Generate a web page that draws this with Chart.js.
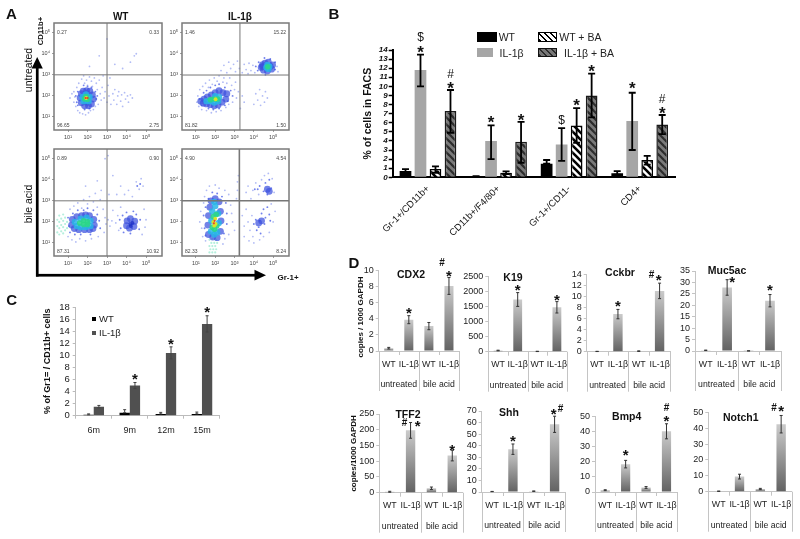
<!DOCTYPE html>
<html><head><meta charset="utf-8">
<script src="https://cdn.jsdelivr.net/npm/chart.js@4"></script>
<style>
html,body{margin:0;padding:0;background:#fff;overflow:hidden;width:800px;height:539px}
#stage{position:relative;width:800px;height:539px;font-family:"Liberation Sans",Arial,sans-serif;color:#111}
canvas{position:absolute;left:0;top:0}
canvas.flow{filter:blur(.55px)}
.t{position:absolute;white-space:nowrap;line-height:1;transform:translate(-50%,-50%)}
.l{position:absolute;white-space:nowrap;line-height:1;transform:translateY(-50%)}
.r{transform:translate(-50%,-50%) rotate(-90deg)}
.s{position:absolute}
svg{position:absolute;left:0;top:0}
</style></head><body><div id="stage">
<svg width="800" height="539"><g fill="#000">
<rect x="35.9" y="66" width="2.7" height="210.6"/><path d="M37.2 57 L31.6 68.5 L42.8 68.5 Z"/>
<rect x="36" y="273.9" width="220" height="2.7"/><path d="M266 275.2 L254.5 269.8 L254.5 280.6 Z"/></g></svg>
<script>
/* ---------- Panel B data ---------- */
const bCategories=['Gr-1+/CD11b+','CD11b+/F4/80+','Gr-1+/CD11-','CD4+'];
const bSeries=['WT','IL-1β','WT + BA','IL-1β + BA'];
const bWT=[0.7,0.1,1.5,0.45];
const bIL=[11.8,4.0,3.6,6.2];
const bWTBA=[0.9,0.5,5.7,1.9];
const bILBA=[7.3,3.9,9.0,5.8];
const bWTLo=[0.55,0.08,1.5,0.3], bWTHi=[0.9,0.14,1.9,0.68];
const bILLo=[10.0,2.0,1.8,3.0], bILHi=[13.5,5.7,5.4,9.3];
const bWTBALo=[0.5,0.35,3.8,1.4], bWTBAHi=[1.2,0.65,7.6,2.35];
const bILBALo=[4.9,1.6,6.6,4.75], bILBAHi=[9.6,6.1,11.4,6.85];
const bTicks=14;
/* ---------- Panel C data ---------- */
const cCategories=['6m','9m','12m','15m'];
const cWT=[0.15,0.5,0.3,0.3];
const cIL=[1.5,5.0,10.4,15.2];
const cWTErr=[0.15,0.5,0.25,0.3];
const cILErr=[0.2,0.5,1.0,1.35];
/* ---------- Panel D data ---------- */
const dCategories=['WT','IL-1β','WT','IL-1β'];
const dGroups=['untreated','bile acid'];
const cdx2=[0.35,3.9,3.1,8.1], cdx2Err=[0.1,0.5,0.45,1.05];
const k19=[40,1740,10,1480], k19Err=[10,230,5,190];
const cckbr=[0.05,6.8,0.1,11], cckbrErr=[0.02,0.85,0.05,1.4];
const muc5ac=[0.3,27.8,0.05,22], muc5acErr=[0.1,3.4,0.02,2.7];
const tff2=[3,198,14,118], tff2Err=[1.5,25,4,17];
const shh=[0.4,37,0.7,58.5], shhErr=[0.1,4.5,0.2,7];
const bmp4=[1.2,18.5,3,40.3], bmp4Err=[0.3,2.5,0.6,5];
const notch1=[0.3,9.5,1.7,42.5], notch1Err=[0.1,1.5,0.4,5.5];
/* ---------- Panel A data: events in decades of fluorescence (Gr-1, CD11b) ---------- */
const aTickValues=[1,2,3,4,5];
const tlPercent=['0.27','0.33','96.65','2.75'], trPercent=['1.46','15.22','81.82','1.50'], blPercent=['0.89','0.90','87.31','10.92'], brPercent=['4.90','4.54','82.33','8.24'];
const tlGate=[3,3], trGate=[3.28,2.99], blGate=[3,3], brGate=[3.25,3];
const tlLight=[[1.1,1.9],[1.2,2.1],[1.3,1.7],[1.3,2.2],[1.4,1.5],[1.35,1.95],[1.45,2.4],[1.5,1.3],[1.55,2.6],[1.6,1.2],[1.7,2.8],[1.75,1.15],[1.8,2.95],[1.85,2.6],[1.9,1.1],[1.95,2.75],[2.0,2.5],[2.05,1.2],[2.1,2.9],[2.15,1.3],[2.2,2.7],[2.25,2.45],[2.3,1.35],[2.35,2.85],[2.4,1.5],[2.45,2.6],[2.5,2.3],[2.55,1.6],[2.6,2.75],[2.65,2.1],[2.7,1.8],[2.75,2.4],[2.8,2.95],[2.85,1.9],[2.9,2.2],[3.0,1.7],[3.05,2.5],[3.1,2.0],[3.15,2.85],[3.2,1.6],[3.3,2.1],[3.35,1.8],[3.4,2.3],[3.5,1.6],[3.55,2.0],[3.6,2.2],[3.7,1.75],[3.75,2.05],[3.8,1.5],[3.9,2.15],[3.95,1.85],[4.05,2.0],[4.1,1.7],[4.2,2.05],[4.3,1.9],[3.4,3.5],[3.8,3.3],[4.2,3.6],[4.4,3.9],[4.5,4.0],[2.6,3.9],[3.0,4.7],[2.1,3.4]];
const tlMid=[[1.4,2.0],[1.45,1.7],[1.5,2.2],[2.4,2.2],[2.45,1.85],[2.5,2.0],[1.8,2.5],[2.0,2.45],[2.2,2.4],[1.85,1.35],[2.1,1.4],[1.5,1.55]];
const tlBlue=[[1.62,1.9],[1.68,2.1],[1.78,2.22],[1.95,2.25],[2.12,2.22],[2.25,2.05],[2.3,1.85],[2.2,1.62],[2.05,1.53],[1.85,1.53],[1.68,1.67],[1.95,1.7],[1.95,2.1]];
const tlCyan=[[1.92,2.07],[2.1,1.95],[2.05,1.75],[1.8,1.75],[1.75,1.95]];
const tlGreen=[[1.92,1.97],[2.0,1.84],[1.85,1.86]];
const tlYellow=[[1.93,1.9]];
const tlRed=[[1.9,1.9],[2.0,1.9]];
const trLight=[[1.05,1.7],[1.1,2.0],[1.15,1.5],[1.2,2.3],[1.3,1.35],[1.35,2.45],[1.45,2.0],[1.5,2.6],[1.55,1.3],[1.65,2.4],[1.7,2.75],[1.8,1.2],[1.85,2.55],[1.95,2.85],[2.05,1.25],[2.1,2.7],[2.2,2.95],[2.3,1.3],[2.4,2.65],[2.45,2.85],[2.55,1.45],[2.6,2.6],[2.7,1.6],[2.75,2.85],[2.85,2.5],[2.9,1.7],[3.0,2.3],[3.05,2.65],[3.1,1.9],[3.2,2.2],[3.3,1.4],[3.4,2.0],[3.5,1.7],[2.3,3.2],[2.45,3.45],[2.6,3.1],[2.7,3.6],[2.8,3.3],[2.95,3.5],[3.05,3.15],[3.15,3.65],[3.25,3.3],[3.4,3.1],[3.5,3.5],[3.6,3.25],[3.7,3.05],[3.75,3.55],[3.85,3.2],[3.95,3.45],[4.05,3.1],[4.0,1.6],[4.1,2.1],[4.2,1.8],[4.3,2.3],[4.35,1.55],[4.45,2.0],[4.55,1.7],[4.6,2.2],[4.7,1.9],[5.2,3.4],[5.25,3.15]];
const trMid=[[1.2,1.85],[1.3,1.55],[1.4,2.15],[1.55,2.25],[1.75,2.4],[2.0,2.5],[2.2,2.55],[2.5,2.4],[2.8,2.25],[2.9,2.0],[2.65,1.75],[2.5,1.55],[1.65,1.4],[1.9,1.35],[2.2,1.4],[4.1,3.4],[4.2,3.2],[4.25,3.6],[4.6,3.0],[5.1,3.25],[5.1,3.6],[4.85,3.75],[4.55,3.8]];
const trBlue=[[1.25,1.75],[1.38,1.65],[1.42,1.85],[1.55,1.62],[1.6,1.95],[1.75,1.58],[1.8,2.05],[1.95,1.53],[2.0,2.15],[2.15,1.57],[2.2,2.25],[2.35,1.7],[2.4,2.15],[2.55,1.85],[2.6,2.1],[4.38,3.35],[4.45,3.48],[4.5,3.22],[4.58,3.55],[4.7,3.18],[4.75,3.6],[4.92,3.27],[4.97,3.47],[4.85,3.4],[4.45,3.4]];
const trCyan=[[1.55,1.75],[1.75,1.75],[1.95,1.68],[2.15,1.75],[2.2,1.95],[2.0,1.98],[4.65,3.35],[4.8,3.4],[4.7,3.47],[4.75,3.28]];
const trGreen=[[1.75,1.82],[1.95,1.85],[2.12,1.85],[4.72,3.38]];
const trYellow=[[2.02,1.84]];
const trRed=[];
const blPale=[[0.45,1.5],[0.45,1.8],[0.45,2.1],[0.55,1.4],[0.55,1.7],[0.55,2.0],[0.55,2.3],[0.65,1.55],[0.65,1.85],[0.65,2.15],[0.75,1.45],[0.75,1.75],[0.75,2.05],[0.75,2.35],[0.85,1.6],[0.85,1.9],[0.85,2.2],[0.95,1.7],[0.95,2.0]];
const blLight=[[1.0,1.3],[1.1,2.6],[1.2,1.15],[1.3,2.75],[1.4,1.05],[1.5,2.9],[1.6,1.2],[1.7,2.65],[1.8,3.05],[1.9,1.1],[2.0,2.85],[2.1,3.2],[2.2,1.2],[2.3,2.95],[2.4,3.35],[2.5,2.7],[2.55,1.3],[2.65,3.05],[2.7,3.5],[2.8,2.6],[2.85,1.5],[2.9,2.2],[2.95,1.9],[3.05,2.1],[3.1,3.3],[3.15,1.8],[3.25,2.05],[3.3,2.55],[3.45,1.95],[3.55,2.3],[3.6,1.6],[3.7,2.7],[4.9,2.6],[4.95,1.75],[5.0,2.1],[4.8,1.4],[3.5,3.3],[3.7,3.7],[3.9,3.3],[4.1,3.5],[4.3,3.2],[4.5,3.9],[4.65,3.55],[4.75,4.05],[4.85,3.7],[2.9,5.0],[3.05,5.15],[3.3,4.2],[2.5,3.95],[1.9,3.7]];
const blMid=[[1.05,1.8],[1.0,2.2],[1.1,1.5],[1.25,2.4],[1.35,1.4],[1.5,2.55],[1.65,1.4],[1.8,2.55],[2.0,2.65],[2.15,1.4],[2.3,2.55],[2.5,2.35],[2.6,2.05],[2.65,1.7],[3.65,2.1],[3.7,1.7],[3.8,2.3],[3.85,1.5],[4.0,2.45],[4.2,1.45],[4.35,2.5],[4.5,2.35],[4.65,1.65],[4.7,2.1],[4.55,3.7],[4.7,3.8]];
const blBlue=[[1.18,1.85],[1.22,2.12],[1.32,1.68],[1.45,2.25],[1.55,1.63],[1.7,2.3],[1.9,2.33],[1.85,1.63],[2.1,2.3],[2.1,1.63],[2.32,2.12],[2.35,1.85],[2.28,1.68],[4.0,1.82],[4.03,2.05],[4.15,1.7],[4.2,2.15],[4.38,1.78],[4.42,2.03]];
const blCyan=[[1.35,2.0],[1.45,1.8],[1.65,2.15],[1.65,1.75],[1.95,2.2],[2.15,2.05],[2.15,1.8],[1.9,1.75]];
const blGreen=[[1.6,1.95],[1.8,2.05],[1.8,1.88],[2.0,2.0],[2.0,1.88]];
const blDeep=[[4.2,1.9],[4.3,1.95],[4.22,1.8]];
const brPale=[[1.7,0.55],[1.85,0.55],[2.0,0.55],[1.75,0.7],[1.9,0.7],[2.05,0.7],[1.7,0.85],[1.85,0.85],[2.0,0.85],[1.8,1.0],[1.95,1.0],[2.1,1.0],[1.7,1.15],[1.85,1.2],[2.05,1.15]];
const brLight=[[1.2,2.0],[1.25,2.5],[1.3,1.7],[1.4,2.9],[1.35,1.3],[1.45,3.2],[1.5,1.1],[1.55,3.5],[1.7,3.7],[2.0,3.75],[2.2,3.6],[2.5,3.5],[2.7,3.3],[2.8,2.8],[2.85,2.4],[2.9,2.0],[3.0,1.6],[2.7,1.4],[2.5,1.2],[2.4,0.95],[3.1,3.1],[3.15,3.5],[3.15,3.9],[3.2,4.2],[3.4,2.3],[3.5,1.8],[3.5,1.3],[3.6,2.6],[3.7,2.0],[3.75,1.1],[3.8,1.6],[3.9,2.3],[3.95,1.3],[3.6,3.4],[3.7,3.7],[3.85,3.1],[3.95,3.5],[4.1,3.85],[4.25,3.3],[4.4,4.0],[4.55,4.2],[4.75,4.3],[4.95,4.05],[5.05,3.4],[4.0,1.0],[4.3,1.15],[4.5,1.3],[4.8,1.5],[5.0,2.0],[5.1,2.5],[4.9,2.85]];
const brMid=[[1.4,2.3],[1.45,1.7],[1.5,2.7],[1.5,1.35],[1.65,3.1],[1.85,3.4],[2.1,3.35],[2.35,3.2],[2.55,2.9],[2.6,2.4],[2.6,1.9],[2.45,1.45],[4.05,3.55],[4.2,3.55],[4.3,3.7],[4.5,3.45],[4.6,3.85],[4.7,3.3],[4.8,4.0],[4.9,3.6],[4.0,1.9],[4.1,2.1],[4.15,1.6],[4.25,1.75],[4.35,1.45],[4.4,2.4],[4.5,2.6],[4.55,1.9],[4.6,2.2],[4.7,2.7],[4.8,2.35],[4.3,2.05],[4.85,2.05]];
const brBlue=[[1.65,1.4],[1.62,1.85],[1.65,2.3],[1.72,2.7],[1.78,3.0],[2.0,3.1],[2.2,2.95],[2.27,2.5],[2.3,2.05],[2.27,1.55],[2.1,1.25],[1.87,1.28],[4.7,3.55],[4.8,3.45],[4.4,2.05],[4.25,1.95]];
const brCyan=[[1.78,1.55],[1.8,2.05],[1.85,2.5],[2.0,2.75],[2.15,2.4],[2.18,1.95],[2.1,1.5],[1.95,1.4],[1.95,2.95]];
const brGreen=[[1.85,1.75],[1.9,2.25],[2.05,2.35],[2.08,1.8],[1.97,1.65]];
const brYellow=[[1.9,2.0],[2.0,2.15],[2.02,1.9],[1.95,1.82]];
const brRed=[[1.97,2.05],[1.93,1.93]];
</script>
<script>
const FONT='"Liberation Sans",Arial,sans-serif';
const stage=document.getElementById('stage');
Chart.defaults.font.family=FONT;
Chart.defaults.color='#222';

function txt(s,x,y,css,cls){const d=document.createElement('div');d.className=cls||'t';d.textContent=s;d.style.left=x+'px';d.style.top=y+'px';d.style.cssText+=';'+css;stage.appendChild(d);}
function box(x,y,w,h,css){const d=document.createElement('div');d.className='s';d.style.cssText=`left:${x}px;top:${y}px;width:${w}px;height:${h}px;box-sizing:border-box;`+css;stage.appendChild(d);}
function mount(cfg,cls){const c=document.createElement('canvas');c.width=800;c.height=539;if(cls)c.className=cls;stage.appendChild(c);return new Chart(c,cfg);}
function baseOptions(r,W,H,scales){
  scales.x.afterFit=s=>{s.height=H};
  scales.y.afterFit=s=>{s.width=W};
  return {responsive:false,animation:false,devicePixelRatio:1,
    layout:{padding:{left:r.l-W,right:800-r.r,top:r.t,bottom:539-r.b-H}},
    plugins:{legend:{display:false},tooltip:{enabled:false}},scales};
}
function axisTitle(text,font,titleX,plotLeft){return {W:plotLeft-titleX+font.size*0.6,title:{display:true,text,font,color:'#111',padding:0}};}

function errorPlugin(spec){return {id:'err',afterDatasetsDraw(ch){
  const c=ch.ctx,y=ch.scales.y;c.save();c.strokeStyle=spec.color;c.lineWidth=spec.width;
  spec.series.forEach(sr=>{ch.getDatasetMeta(sr.ds).data.forEach((el,i)=>{
    const hi=y.getPixelForValue(sr.hi[i]),lo=y.getPixelForValue(sr.lo[i]),x=el.x;
    c.beginPath();c.moveTo(x,lo);c.lineTo(x,hi);
    c.moveTo(x-spec.cap,hi);c.lineTo(x+spec.cap,hi);
    c.moveTo(x-spec.cap,lo);c.lineTo(x+spec.cap,lo);c.stroke();});});
  c.restore();}};}
function markPlugin(marks,hiOf,starFont,symFont){return {id:'marks',afterDraw(ch){
  const c=ch.ctx,y=ch.scales.y;c.save();c.textAlign='center';c.textBaseline='alphabetic';c.fillStyle='#111';
  marks.forEach(([ds,i,sym,dx,dy])=>{
    const el=ch.getDatasetMeta(ds).data[i],top=y.getPixelForValue(hiOf(ds,i));
    const f=sym==='*'?starFont:symFont;c.font=f.css;
    c.fillText(sym,el.x+dx,top+dy+f.size*(sym==='*'?0.58:0.35));});
  c.restore();}};}
function levelPlugin(){return {id:'levels',afterDraw(ch){
  const c=ch.ctx,a=ch.chartArea,n=dCategories.length,st=(a.right-a.left)/n;
  c.save();c.strokeStyle='#c4c4c4';c.lineWidth=1;
  for(let i=0;i<=n;i++){const px=Math.round(a.left+st*i)+.5,long=i%2===0;
    c.beginPath();c.moveTo(px,a.bottom);c.lineTo(px,a.bottom+(long?40:4));c.stroke();}
  c.fillStyle='#222';c.font='8.7px '+FONT;c.textAlign='center';c.textBaseline='middle';
  dGroups.forEach((g,i)=>c.fillText(g,a.left+st*(i*2+1),a.bottom+34));
  c.restore();}};}

/* ---------- Panel A ---------- */
const layerStyle={light:['#b2bcf5',.9],pale:['#b5efdd',1.1],mid:['#7282ec',.95],blue:['rgba(60,80,222,.72)',3.4],deep:['rgba(30,50,200,.8)',2],cyan:['rgba(40,180,232,.85)',3.2],green:['rgba(43,214,138,.9)',2.8],yellow:['#d9e32a',1.9],red:['#e8432a',1.1]};
function flow(r,layers,gate,pct,gateW){
  const ds=[];
  layers.forEach(([name,pts])=>{const s=layerStyle[name];ds.push({type:'scatter',data:pts,pointRadius:s[1],pointBackgroundColor:s[0],pointBorderWidth:0,showLine:false});});
  const X0=.28,X1=5.82,Y0=.38,Y1=5.46;
  ds.push({type:'scatter',data:[[gate[0],Y0],[gate[0],Y1]],showLine:true,pointRadius:0,borderColor:'#777',borderWidth:gateW});
  ds.push({type:'scatter',data:[[X0,gate[1]],[X1,gate[1]]],showLine:true,pointRadius:0,borderColor:'#777',borderWidth:gateW});
  ds.forEach((d,i)=>d.order=-i);
  const sup=v=>'10'+({1:'¹',2:'²',3:'³',4:'⁴',5:'⁵'}[v]||'');
  const axis=(min,max)=>({type:'linear',min,max,
    afterBuildTicks:s=>{s.ticks=aTickValues.map(v=>({value:v}))},
    grid:{drawOnChartArea:false,tickLength:2,tickColor:'#777',tickWidth:.7},border:{display:false},
    ticks:{autoSkip:false,maxRotation:0,padding:2,color:'#444',font:{size:5.5},callback:v=>sup(v)}});
  mount({type:'scatter',data:{datasets:ds},options:baseOptions(r,14,14,{x:axis(X0,X1),y:axis(Y0,Y1)}),
    plugins:[{id:'frame',afterDraw(ch){const c=ch.ctx,a=ch.chartArea;c.save();
      c.strokeStyle='#7a7a7a';c.lineWidth=1.5;c.strokeRect(a.left,a.top,a.right-a.left,a.bottom-a.top);
      c.fillStyle='#444';c.font='5px '+FONT;c.textBaseline='middle';
      c.textAlign='left';c.fillText(pct[0],a.left+3,a.top+10);c.fillText(pct[2],a.left+3,a.bottom-4);
      c.textAlign='right';c.fillText(pct[1],a.right-3,a.top+10);c.fillText(pct[3],a.right-3,a.bottom-4);
      c.restore();}}]},'flow');
}
flow({l:54,r:162,t:23,b:130},[['light',tlLight],['mid',tlMid],['blue',tlBlue],['cyan',tlCyan],['green',tlGreen],['yellow',tlYellow],['red',tlRed]],tlGate,tlPercent,1);
flow({l:182,r:289,t:23,b:130},[['light',trLight],['mid',trMid],['blue',trBlue],['cyan',trCyan],['green',trGreen],['yellow',trYellow],['red',trRed]],trGate,trPercent,1);
flow({l:54,r:162,t:149,b:256},[['pale',blPale],['light',blLight],['mid',blMid],['blue',blBlue],['cyan',blCyan],['green',blGreen],['deep',blDeep]],blGate,blPercent,1);
flow({l:182,r:289,t:149,b:256},[['pale',brPale],['light',brLight],['mid',brMid],['blue',brBlue],['cyan',brCyan],['green',brGreen],['yellow',brYellow],['red',brRed]],brGate,brPercent,1.6);

/* ---------- Panel B ---------- */
function hatch(bg,fg,w){const p=document.createElement('canvas');p.width=p.height=7;const c=p.getContext('2d');
  c.fillStyle=bg;c.fillRect(0,0,7,7);c.strokeStyle=fg;c.lineWidth=w;
  [-7,0,7].forEach(o=>{c.beginPath();c.moveTo(o-1,-1);c.lineTo(o+8,8);c.stroke();});
  return c.createPattern(p,'repeat');}
const wtHatch=hatch('#fff','#000',2.6), ilHatch=hatch('#7a7a7a','#2c2c2c',2.2);
(function(){
  const f={size:10.5,weight:'bold'},a=axisTitle('% of cells in FACS',f,367.7,392.7);
  const rect={l:392.7,r:675,t:50,b:177.3};
  const y={type:'linear',min:0,max:bTicks,title:a.title,
    grid:{drawOnChartArea:false,tickLength:4,tickColor:'#000',tickWidth:1.5},border:{color:'#000',width:2},
    ticks:{stepSize:1,autoSkip:false,padding:1,color:'#111',font:{size:8,style:'italic',weight:'bold'}}};
  const x={type:'category',grid:{display:false,drawTicks:false},border:{color:'#000',width:2},
    ticks:{autoSkip:false,minRotation:45,maxRotation:45,padding:6,color:'#111',font:{size:9.5}}};
  const common={barPercentage:.78,categoryPercentage:.85};
  const hi=[bWTHi,bILHi,bWTBAHi,bILBAHi];
  mount({type:'bar',data:{labels:bCategories,datasets:[
    {label:bSeries[0],data:bWT,backgroundColor:'#000',...common},
    {label:bSeries[1],data:bIL,backgroundColor:'#a6a6a6',...common},
    {label:bSeries[2],data:bWTBA,backgroundColor:wtHatch,borderColor:'#000',borderWidth:1.5,...common},
    {label:bSeries[3],data:bILBA,backgroundColor:ilHatch,borderColor:'#1a1a1a',borderWidth:1.5,...common}]},
    options:baseOptions(rect,a.W,62,{x,y}),
    plugins:[errorPlugin({color:'#000',width:1.8,cap:3.5,series:[
      {ds:0,lo:bWTLo,hi:bWTHi},{ds:1,lo:bILLo,hi:bILHi},{ds:2,lo:bWTBALo,hi:bWTBAHi},{ds:3,lo:bILBALo,hi:bILBAHi}]}),
      markPlugin([[1,0,'*',0,-6.4],[1,0,'$',0,-17.7],[3,0,'*',0,-6],[3,0,'#',0,-16],[1,1,'*',0,-7],[3,1,'*',0,-6],
        [1,2,'$',0,-8],[2,2,'*',0,-6.6],[3,2,'*',0,-6.4],[1,3,'*',0,-8.7],[3,3,'*',0,-6],[3,3,'#',0,-16.7]],
        (ds,i)=>hi[ds][i],{size:17,css:'bold 17px '+FONT},{size:12,css:'12px '+FONT})]});
})();
const lg='font-size:10.5px;color:#222';
box(476.7,32,20,9.7,'background:#000');txt('WT',498.7,37,lg,'l');
box(476.7,48,16.6,9.3,'background:#a6a6a6');txt('IL-1β',499.5,53,lg,'l');
box(538,32,19.3,9.5,'border:1.2px solid #000;background:repeating-linear-gradient(45deg,#000 0 1.6px,#fff 1.6px 4.4px)');txt('WT + BA',559.3,37,lg,'l');
box(538,48,19.3,9,'border:1.2px solid #111;background:repeating-linear-gradient(45deg,#2c2c2c 0 1.6px,#777 1.6px 4.4px)');txt('IL-1β + BA',564,53,lg,'l');

/* ---------- Panel C ---------- */
(function(){
  const f={size:9,weight:'bold'},a=axisTitle('% of Gr1= / CD11b+ cells',f,47.7,75.7);
  const rect={l:75.7,r:220,t:307,b:415.7};
  const y={type:'linear',min:0,max:18,title:a.title,
    grid:{drawOnChartArea:false,tickLength:3,tickColor:'#bbb'},border:{color:'#bbb'},
    ticks:{stepSize:2,autoSkip:false,padding:3,color:'#222',font:{size:9.5}}};
  const x={type:'category',grid:{drawOnChartArea:false,tickLength:3,tickColor:'#bbb',offset:true},border:{color:'#bbb'},
    ticks:{autoSkip:false,maxRotation:0,padding:6,color:'#222',font:{size:9}}};
  const common={barPercentage:1,categoryPercentage:.57};
  const lo=(v,e)=>v.map((q,i)=>Math.max(0,q-e[i])),hi=(v,e)=>v.map((q,i)=>q+e[i]);
  const iHi=hi(cIL,cILErr);
  mount({type:'bar',data:{labels:cCategories,datasets:[
    {label:'WT',data:cWT,backgroundColor:'#000',...common},
    {label:'IL-1β',data:cIL,backgroundColor:'#505050',...common}]},
    options:baseOptions(rect,a.W,28,{x,y}),
    plugins:[errorPlugin({color:'#444',width:1,cap:1.5,series:[
      {ds:0,lo:cWT,hi:hi(cWT,cWTErr)},{ds:1,lo:lo(cIL,cILErr),hi:iHi}]}),
      markPlugin([[1,1,'*',0,-7.5],[1,2,'*',0,-7],[1,3,'*',0,-7.3]],(ds,i)=>iHi[i],{size:15,css:'bold 15px '+FONT},{size:10,css:'10px '+FONT})]});
})();
box(91.7,316.7,4.2,4,'background:#000');txt('WT',99,319.3,'font-size:9.5px;color:#222','l');
box(91.7,331,4.2,4,'background:#505050');txt('IL-1β',99,333,'font-size:9.5px;color:#222','l');

/* ---------- Panel D ---------- */
function barFill(ctx){
  if(ctx.type!=='data')return '#999';
  const y=ctx.chart.scales.y,top=y.getPixelForValue(ctx.raw),base=y.getPixelForValue(0);
  if(!isFinite(top)||!isFinite(base))return '#999';
  const g=ctx.chart.ctx.createLinearGradient(0,top,0,Math.max(base,top+1));
  g.addColorStop(0,'#cbcbcb');g.addColorStop(1,'#626262');return g;
}
function dPanel(r,values,errs,max,step,marks,yTitle){
  const f={size:8,weight:'bold'};
  const a=yTitle?axisTitle(yTitle[0],f,yTitle[1],r.l):{W:30};
  const y={type:'linear',min:0,max,...(a.title?{title:a.title}:{}),
    grid:{drawOnChartArea:false,tickLength:3,tickColor:'#c4c4c4'},border:{color:'#c4c4c4'},
    ticks:{stepSize:step,autoSkip:false,padding:2,color:'#222',font:{size:9},callback:v=>String(v)}};
  const x={type:'category',grid:{display:false,drawTicks:false},border:{color:'#c4c4c4'},
    ticks:{autoSkip:false,maxRotation:0,padding:8,color:'#222',font:{size:8.8}}};
  const hi=values.map((v,i)=>v+errs[i]),lo=values.map((v,i)=>Math.max(0,v-errs[i]));
  mount({type:'bar',data:{labels:dCategories,datasets:[{data:values,backgroundColor:barFill,barPercentage:.45,categoryPercentage:1}]},
    options:baseOptions(r,a.W,44,{x,y}),
    plugins:[levelPlugin(),errorPlugin({color:'#333',width:1,cap:1.5,series:[{ds:0,lo,hi}]}),
      markPlugin(marks,(ds,i)=>hi[i],{size:15,css:'bold 15px '+FONT},{size:10,css:'bold 10px '+FONT})]});
}
dPanel({l:378.7,r:459,t:270.7,b:351},cdx2,cdx2Err,10,2,[[0,1,'*',0,-6],[0,3,'*',0,-5.5],[0,3,'#',-7,-15]]);
dPanel({l:488.3,r:566.7,t:276.7,b:351.7},k19,k19Err,2500,500,[[0,1,'*',0,-6],[0,3,'*',0,-5]]);
dPanel({l:586.7,r:670,t:274.3,b:351.7},cckbr,cckbrErr,14,2,[[0,1,'*',0,-7.5],[0,3,'*',-1,-7],[0,3,'#',-8,-9]]);
dPanel({l:695,r:780.7,t:271,b:351},muc5ac,muc5acErr,35,5,[[0,1,'*',5,-1],[0,3,'*',0,-8]]);
dPanel({l:379.3,r:462.7,t:414,b:492.7},tff2,tff2Err,250,50,[[0,1,'#',-6,0],[0,1,'*',7,0],[0,3,'*',0,-4]],['copies/1000 GAPDH',353.3]);
dPanel({l:481.7,r:565,t:411,b:492},shh,shhErr,70,10,[[0,1,'*',0,-7],[0,3,'*',-1,-6],[0,3,'#',6,-7.7]]);
dPanel({l:595,r:676.7,t:416.7,b:492},bmp4,bmp4Err,50,10,[[0,1,'*',0,-8.6],[0,3,'*',0,-6.6],[0,3,'#',0,-16]]);
dPanel({l:708.3,r:794,t:412.3,b:491.7},notch1,notch1Err,50,10,[[0,3,'*',0,-8],[0,3,'#',-7,-8.3]]);

/* ---------- Labels ---------- */
[['CDX2',411,274],['K19',513,276.7],['Cckbr',620,271.7],['Muc5ac',727,270],['TFF2',408,414],['Shh',509,412],['Bmp4',626.7,416],['Notch1',740.7,417]]
 .forEach(([s,x,y])=>txt(s,x,y,'font-size:10.5px;font-weight:bold;color:#111'));
txt('copies / 1000 GAPDH',361.3,316.7,'font-size:8px;font-weight:bold;color:#111','t r');
const pl='font-size:15px;font-weight:bold;color:#111';
txt('A',11.5,12.5,pl);txt('B',334,13,pl);txt('C',11.7,298.5,pl);txt('D',354,262,pl);
txt('WT',120.7,16.7,'font-size:10px;font-weight:bold');txt('IL-1β',240,16.7,'font-size:10px;font-weight:bold');
txt('CD11b+',40.7,31,'font-size:7.7px;font-weight:bold','t r');
txt('untreated',27.7,70,'font-size:10.5px','t r');txt('bile acid',27.7,204,'font-size:10.5px','t r');
txt('Gr-1+',288,277.7,'font-size:8px;font-weight:bold');
</script>
</div></body></html>
